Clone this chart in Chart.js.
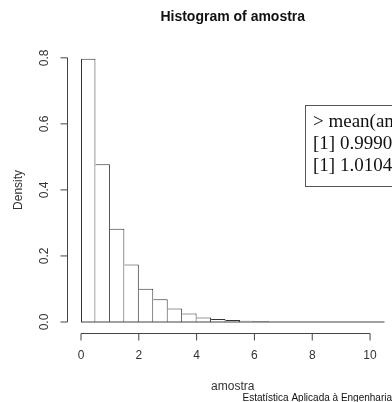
<!DOCTYPE html>
<html>
<head>
<meta charset="utf-8">
<script src="https://cdn.jsdelivr.net/npm/chart.js@4.4.1/dist/chart.umd.min.js"></script>
<style>
  body { margin: 0; background: #fff; }
  #wrap { width: 392px; height: 402px; }
</style>
</head>
<body>
<div id="wrap"><canvas id="histChart" width="392" height="402"></canvas></div>
<script>
// Histogram of amostra
const breaks = [0, 0.5, 1, 1.5, 2, 2.5, 3, 3.5, 4, 4.5, 5, 5.5, 6, 6.5, 7, 7.5, 8, 8.5, 9, 9.5, 10, 10.5];
const density = [0.797, 0.478, 0.282, 0.174, 0.101, 0.069, 0.041, 0.026, 0.014, 0.009, 0.006,
  0.004, 0.002, 0, 0.001, 0.001, 0, 0, 0, 0, 0];
const xTicks = [0, 2, 4, 6, 8, 10];
const yTicks = [0, 0.2, 0.4, 0.6, 0.8];
const consoleLines = ['> mean(amostra)', '[1] 0.9990', '[1] 1.0104'];

const histData = density.map((d, i) => ({ x: (breaks[i] + breaks[i + 1]) / 2, y: d }));

Chart.defaults.font.family = '"Liberation Sans", Arial, sans-serif';
Chart.defaults.color = '#333';

// R style axes, zero line, console box and footer
const rStyle = {
  id: 'rStyle',
  afterDraw(chart) {
    const ctx = chart.ctx;
    const x = chart.scales.x;
    const y = chart.scales.y;
    const area = chart.chartArea;
    ctx.save();
    ctx.strokeStyle = '#444';
    ctx.lineWidth = 1;

    // zero line under empty bins
    ctx.beginPath();
    ctx.moveTo(x.getPixelForValue(breaks[0]), y.getPixelForValue(0));
    ctx.lineTo(x.getPixelForValue(breaks[breaks.length - 1]), y.getPixelForValue(0));
    ctx.stroke();

    // x axis
    const ay = area.bottom + 11.5;
    ctx.beginPath();
    ctx.moveTo(x.getPixelForValue(xTicks[0]), ay);
    ctx.lineTo(x.getPixelForValue(xTicks[xTicks.length - 1]), ay);
    xTicks.forEach(v => {
      const px = x.getPixelForValue(v);
      ctx.moveTo(px, ay);
      ctx.lineTo(px, ay + 7);
    });
    ctx.stroke();

    // y axis
    const ax = area.left - 13.5;
    ctx.beginPath();
    ctx.moveTo(ax, y.getPixelForValue(yTicks[0]));
    ctx.lineTo(ax, y.getPixelForValue(yTicks[yTicks.length - 1]));
    yTicks.forEach(v => {
      const py = y.getPixelForValue(v);
      ctx.moveTo(ax, py);
      ctx.lineTo(ax - 7, py);
    });
    ctx.stroke();

    // console output box
    ctx.strokeStyle = '#555';
    ctx.strokeRect(305.5, 105.5, 120, 81);
    ctx.fillStyle = '#111';
    ctx.font = '19px "Liberation Serif", "Times New Roman", serif';
    ctx.textBaseline = 'alphabetic';
    consoleLines.forEach((t, i) => ctx.fillText(t, 313, 127 + i * 22));

    // footer
    ctx.font = '10px "Liberation Sans", Arial, sans-serif';
    ctx.fillText('Estatística Aplicada à Engenharia', 242.5, 401);
    ctx.restore();
  }
};

const config = {
  type: 'bar',
  data: {
    datasets: [{
      label: 'amostra',
      data: histData,
      backgroundColor: '#fff',
      borderColor: '#333',
      borderWidth: c => ({ top: 1, right: 1, bottom: 0, left: c.dataIndex === 0 ? 1 : 0 }),
      barPercentage: 1,
      categoryPercentage: 1,
      inflateAmount: 0
    }]
  },
  options: {
    responsive: false,
    animation: false,
    layout: { padding: { left: 0, right: 7.5, top: 0, bottom: 0 } },
    plugins: {
      legend: { display: false },
      tooltip: { enabled: false },
      title: {
        display: true,
        text: 'Histogram of amostra',
        fullSize: false,
        color: '#111',
        font: { size: 14, weight: 'bold' },
        padding: { top: 9, bottom: 32 }
      }
    },
    scales: {
      x: {
        type: 'linear',
        min: breaks[0],
        max: breaks[breaks.length - 1],
        offset: false,
        grid: { display: false, drawTicks: false },
        border: { display: false },
        afterBuildTicks: s => { s.ticks = xTicks.map(v => ({ value: v })); },
        afterFit: s => { s.height = 80; s.paddingLeft = 0; s.paddingRight = 0; },
        ticks: { padding: 26, font: { size: 12 }, maxRotation: 0, autoSkip: false },
        title: { display: true, text: 'amostra', color: '#333', font: { size: 12 }, padding: { top: 0, bottom: 8.5 } }
      },
      y: {
        min: 0,
        max: 0.8,
        grid: { display: false, drawTicks: false },
        border: { display: false },
        afterBuildTicks: s => { s.ticks = yTicks.map(v => ({ value: v })); },
        afterFit: s => { s.width = 81; s.paddingTop = 0; s.paddingBottom = 0; },
        ticks: {
          padding: 28,
          font: { size: 12 },
          minRotation: 90,
          maxRotation: 90,
          crossAlign: 'center',
          autoSkip: false,
          callback: v => v.toFixed(1)
        },
        title: { display: true, text: 'Density', color: '#333', font: { size: 12 }, padding: { top: 11, bottom: 0 } }
      }
    }
  },
  plugins: [rStyle]
};

const histChart = new Chart(document.getElementById('histChart'), config);
</script>
</body>
</html>
